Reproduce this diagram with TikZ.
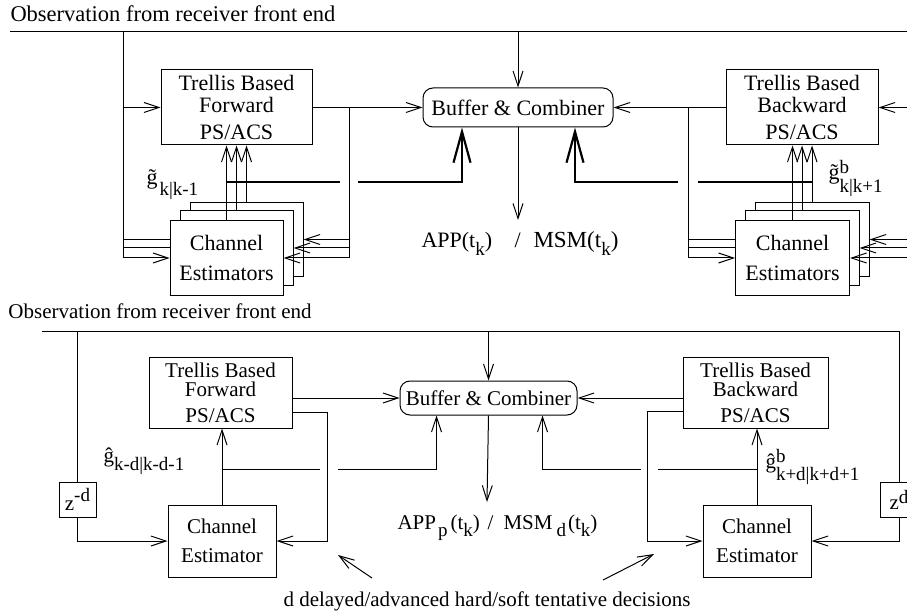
\documentclass[tikz,border=0pt]{standalone}
\usepackage{fontspec}
\setmainfont{Liberation Serif}
\usetikzlibrary{arrows.meta}
\newcommand{\dn}[2][7pt]{\raisebox{-#1}{\fontsize{19}{19}\selectfont #2}}
\newcommand{\up}[2][8pt]{\raisebox{#1}{\fontsize{19}{19}\selectfont #2}}
\begin{document}
\begin{tikzpicture}[x=1pt,y=1pt,line width=1pt,
    >={Straight Barb[length=15pt,width=10pt]},
    trel/.style={draw,rectangle,align=center,font=\fontsize{22}{22}\selectfont},
    est/.style={draw,rectangle,fill=white,align=center,minimum width=113pt,minimum height=74pt,font=\fontsize{22}{30}\selectfont},
    comb/.style={draw,rectangle,rounded corners=10pt,align=center},
    zbox/.style={draw,rectangle,minimum width=37pt,minimum height=35pt},
    thk/.style={line width=2.2pt},
    bigarrow/.style={-{Straight Barb[length=31pt,width=17pt]}}]
    \tikzstyle{every node}+=[inner sep=0pt,font=\fontsize{22}{22}\selectfont]
    \clip (0,0) rectangle (907,614);
    \node [anchor=base west,font=\fontsize{22.5}{22.5}\selectfont] (obsA) at (10,592) {Observation from receiver front end};
    \coordinate (inA) at (10,582);
    \coordinate (endA) at (907,582);
    \node [trel,minimum width=151pt,minimum height=75pt] (fwdA) at (236.5,506.5) {Trellis Based\\Forward\\[5pt]PS/ACS};
    \node [comb,minimum width=190pt,minimum height=39pt] (bufA) at (518,506.5) {Buffer \& Combiner};
    \node [trel,minimum width=152pt,minimum height=75pt] (bwdA) at (802,506.5) {Trellis Based\\Backward\\[5pt]PS/ACS};
    \node [est] (estA3) at (246.5,374.5) {};
    \node [est] (estA2) at (236.5,366) {};
    \node [est] (estA1) at (226.5,356) {Channel\\Estimators};
    \node [est,minimum width=114pt] (estB3) at (812,374.5) {};
    \node [est,minimum width=114pt] (estB2) at (802,366) {};
    \node [est,minimum width=114pt] (estB1) at (792.5,356) {Channel\\Estimators};
    \coordinate (busA) at (123,582);
    \coordinate (tapA) at (349,506.5);
    \coordinate (tapB) at (688,506.5);
    \coordinate (outA) at (518,394);
    \draw [black] (inA) -- (endA);
    \draw [black,->] (busA) |- (estA1.west);
    \draw [black,->] (busA |- fwdA.west) -- (fwdA.west);
    \draw [black] (busA |- estA3) -- (estA1.west |- estA3);
    \draw [black] (busA |- estA2) -- (estA1.west |- estA2);
    \draw [black,->] (bufA.north |- inA) -- (bufA.north);
    \draw [black,->] (bufA.south) -- (outA);
    \draw [black,->] (fwdA.east) -- (bufA.west);
    \draw [black] (tapA) -- (tapA |- estA1);
    \draw [black,->] (tapA |- estA3) -- (estA3.east);
    \draw [black,->] (tapA |- estA2) -- (estA2.east);
    \draw [black,->] (tapA |- estA1) -- (estA1.east);
    \draw [black,->] (estA1.north) -- (estA1.north |- fwdA.south);
    \draw [black,->] (estA2.north) -- (estA2.north |- fwdA.south);
    \draw [black,->] (estA3.north) -- (estA3.north |- fwdA.south);
    \draw [black,thk] (estA1.north |- 0,432) -- (340,432);
    \draw [black,thk,bigarrow] (358,432) -| ([xshift=-56pt]bufA.south);
    \draw [black,->] (endA |- bwdA.east) -- (bwdA.east);
    \draw [black,->] (bwdA.west) -- (bufA.east);
    \draw [black,->] (tapB) |- (estB1.west);
    \draw [black] (tapB |- estB3) -- (estB1.west |- estB3);
    \draw [black] (tapB |- estB2) -- (estB1.west |- estB2);
    \draw [black,->] (endA |- estB3) -- (estB3.east);
    \draw [black,->] (endA |- estB2) -- (estB2.east);
    \draw [black,->] (endA |- estB1) -- (estB1.east);
    \draw [black,->] (estB1.north) -- (estB1.north |- bwdA.south);
    \draw [black,->] (estB2.north) -- (estB2.north |- bwdA.south);
    \draw [black,->] (estB3.north) -- (estB3.north |- bwdA.south);
    \draw [black,thk] (estB3.north |- 0,432) -- (698,432);
    \draw [black,thk,bigarrow] (678,432) -| ([xshift=57pt]bufA.south);
    \node [anchor=base west] (gA) at (146,429) {\~{g}\hspace{2pt}\dn[11pt]{k|k-1}};
    \node [anchor=base west] (gB) at (828,434) {\~{g}\rlap{\up[6pt]{b}}\dn[13pt]{k|k+1}};
    \node [anchor=base west] (appA) at (421,366) {APP(t\dn{k})};
    \node [anchor=base west] (slA) at (514,366) {/};
    \node [anchor=base west,font=\fontsize{23}{23}\selectfont] (msmA) at (533,366) {MSM(t\dn{k})};
    \begin{scope}[every node/.append style={font=\fontsize{21}{21}\selectfont}]
    \node [anchor=base west] (obsB) at (8,296) {Observation from receiver front end};
    \coordinate (inB) at (42,283);
    \coordinate (cornB) at (899,283);
    \node [trel,minimum width=143pt,minimum height=71pt,font=\fontsize{21}{19}\selectfont] (fwdB) at (220.5,221.5) {Trellis Based\\Forward\\[7pt]PS/ACS};
    \node [comb,minimum width=177pt,minimum height=34pt] (bufB) at (488.5,216) {Buffer \& Combiner};
    \node [trel,minimum width=145pt,minimum height=71pt,font=\fontsize{21}{19}\selectfont] (bwdB) at (755.5,221.5) {Trellis Based\\Backward\\[7pt]PS/ACS};
    \node [est,minimum width=108pt,minimum height=72pt,font=\fontsize{21}{29}\selectfont] (ceL) at (222,73) {Channel\\Estimator};
    \node [est,minimum width=108pt,minimum height=72pt,font=\fontsize{21}{29}\selectfont] (ceR) at (757,73) {Channel\\Estimator};
    \node [zbox] (zL) at (77.5,114.5) {z\up[9pt]{-d}\hspace{2pt}};
    \node [zbox] (zR) at (899,114.5) {z\up[6pt]{d}\hspace{6pt}};
    \coordinate (outB) at (487,112);
    \coordinate (fbL) at (327,202);
    \coordinate (fbR) at (647,203);
    \coordinate (dL) at (372,36);
    \coordinate (dR) at (603,34);
    \draw [black] (inB) -- (cornB) -- (zR.north);
    \draw [black] (zL.north |- inB) -- (zL.north);
    \draw [black,->] (zL.south) |- (ceL.west);
    \draw [black,->] (zR.south) |- (ceR.east);
    \draw [black,->] (bufB.north |- inB) -- (bufB.north);
    \draw [black,->] (bufB.south |- bufB.south) -- (outB);
    \draw [black,->] (fwdB.east |- bufB.west) -- (bufB.west);
    \draw [black,->] (fwdB.east |- fbL) -- (fbL) |- (ceL.east);
    \draw [black,->] (ceL.north) -- (ceL.north |- fwdB.south);
    \draw [black] (ceL.north |- 0,145) -- (320,145);
    \draw [black,->] (338,145) -| ([xshift=-52pt]bufB.south);
    \draw [black,->] (bwdB.west |- bufB.east) -- (bufB.east);
    \draw [black,->] (bwdB.west |- fbR) -- (fbR) |- (ceR.west);
    \draw [black,->] (ceR.north) -- (ceR.north |- bwdB.south);
    \draw [black] (ceR.north |- 0,145) -- (658,145);
    \draw [black,->] (641,145) -| ([xshift=54pt]bufB.south);
    \node [anchor=base west] (gC) at (103,152) {\^{g}\dn[8pt]{k-d|k-d-1}};
    \node [anchor=base west] (gD) at (765,146) {\^{g}\rlap{\up[6pt]{b}}\dn[12pt]{k+d|k+d+1}};
    \node [anchor=base west] (appB) at (397,85) {APP\hspace{2pt}\dn{p}\hspace{3pt}(t\dn{k})};
    \node [anchor=base west] (slB) at (487,85) {/};
    \node [anchor=base west] (msmB) at (503,85) {MSM\hspace{4pt}\dn{d}\hspace{2pt}(t\dn{k})};
    \draw [black,->] (dL) -- (338,59);
    \draw [black,->] (dR) -- (654,60);
    \node [anchor=base west] (dec) at (283,8) {d delayed/advanced hard/soft tentative decisions};
    \end{scope}
\end{tikzpicture}
\end{document}
